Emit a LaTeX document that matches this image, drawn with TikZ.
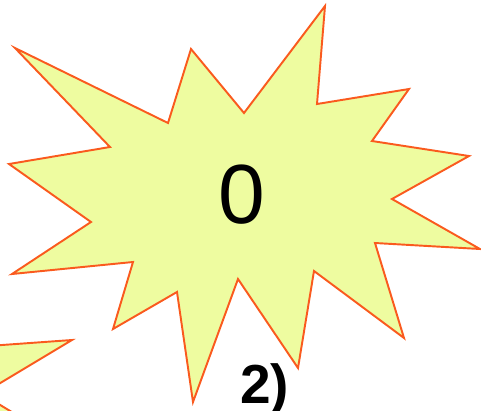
\documentclass[tikz,border=0pt]{standalone}
\usepackage{fontspec}
\setmainfont{Liberation Sans}
\definecolor{burstfill}{RGB}{238,252,160}
\definecolor{burstline}{RGB}{250,90,30}
\begin{document}
\begin{tikzpicture}[x=0.02cm, y=-0.02cm]
    \useasboundingbox (0,0) rectangle (481,410);
    \clip (0,0) rectangle (481,410);

    \begin{scope}
        \draw[fill=burstfill, draw=burstline, line width=1.1pt, line join=miter]
            (15,48) -- (168,123) -- (191,49) -- (244,113) -- (325,6)
            -- (317,104) -- (409,89) -- (372,141) -- (469,156)
            -- (392,199) -- (480,249) -- (375,243) -- (404,338)
            -- (314,271) -- (298,368) -- (238,279) -- (193,402)
            -- (177,292) -- (113,329) -- (133,262) -- (12,274)
            -- (91,222) -- (9,164) -- (110,147) -- cycle;

        \node[anchor=base, inner sep=0pt, font=\fontsize{47.8}{50}\selectfont]
            (zero) at (241.5,223) {0};
    \end{scope}

    % next burst, mostly off the page
    \begin{scope}
        \draw[fill=burstfill, draw=burstline, line width=1.1pt]
            (-40,348) -- (72,340) -- (-18,394) -- (40,429)
            -- (-40,429) -- cycle;
    \end{scope}

    \node[anchor=base west, inner sep=0pt, font=\fontsize{31.3}{33}\selectfont\bfseries]
        (label) at (240,403) {2)};
\end{tikzpicture}
\end{document}
